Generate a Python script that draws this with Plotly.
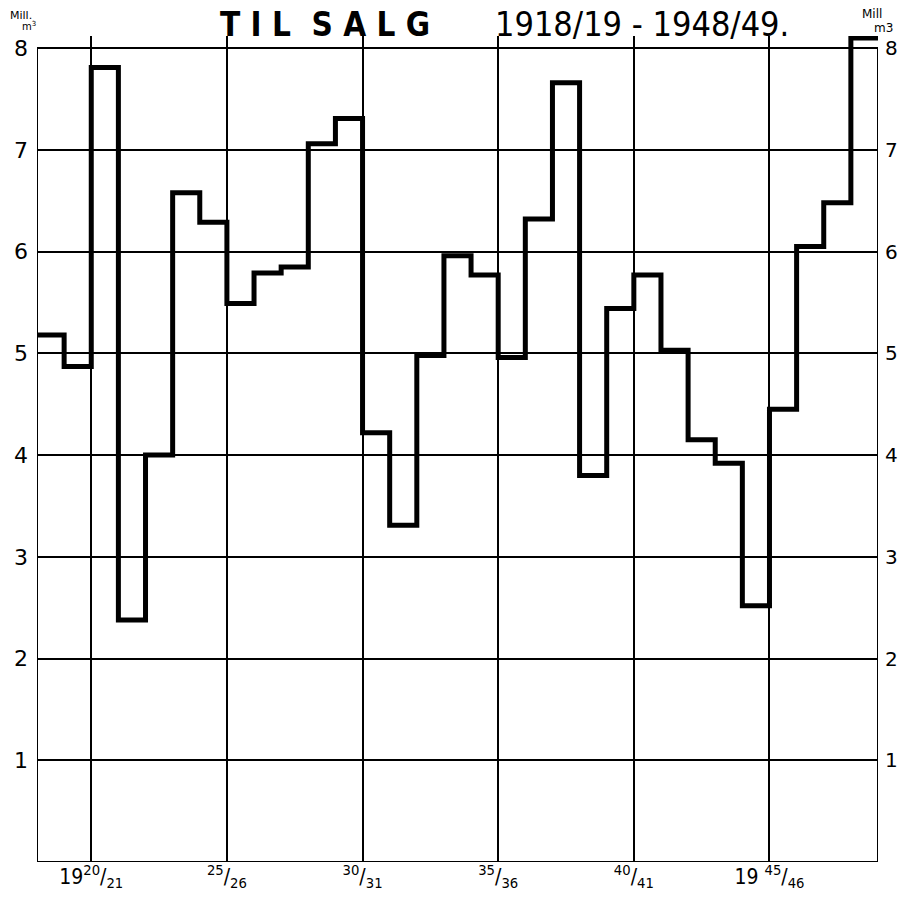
import plotly.graph_objects as go

years = ["1918/19","1919/20","1920/21","1921/22","1922/23","1923/24","1924/25","1925/26",
         "1926/27","1927/28","1928/29","1929/30","1930/31","1931/32","1932/33","1933/34",
         "1934/35","1935/36","1936/37","1937/38","1938/39","1939/40","1940/41","1941/42",
         "1942/43","1943/44","1944/45","1945/46","1946/47","1947/48","1948/49"]
values = [5.18, 4.87, 7.81, 2.38, 4.00, 6.58, 6.29, 5.49,
          5.79, 5.85, 7.06, 7.31, 4.22, 3.31, 4.98, 5.96,
          5.77, 4.96, 6.32, 7.66, 3.80, 5.44, 5.77, 5.03,
          4.15, 3.92, 2.52, 4.45, 6.05, 6.48, 8.10]
tick_pos = [2, 7, 12, 17, 22, 27]
tick_labels = ["19<sup>20</sup>/<sub>21</sub>", "<sup>25</sup>/<sub>26</sub>",
               "<sup>30</sup>/<sub>31</sub>", "<sup>35</sup>/<sub>36</sub>",
               "<sup>40</sup>/<sub>41</sub>", "19 <sup>45</sup>/<sub>46</sub>"]
y_ticks = [1, 2, 3, 4, 5, 6, 7, 8]

n = len(values)
xs = list(range(n + 1))
ys = values + [values[-1]]

fig = go.Figure()
fig.add_trace(go.Scatter(x=xs, y=ys, mode="lines", line_shape="hv",
                         line=dict(color="black", width=5), hoverinfo="skip",
                         showlegend=False))
fig.add_trace(go.Scatter(x=[0], y=[0], yaxis="y2", mode="markers",
                         marker=dict(opacity=0), showlegend=False, hoverinfo="skip"))

font = "DejaVu Sans"
cond = "DejaVu Sans Condensed, Liberation Sans Narrow, DejaVu Sans"
fig.update_layout(
    width=894, height=891,
    margin=dict(l=29, r=24, t=28, b=37, autoexpand=False),
    paper_bgcolor="white", plot_bgcolor="white",
    font=dict(family=font, color="black"),
    xaxis=dict(range=[0, n], tickvals=tick_pos, ticktext=tick_labels,
               showgrid=True, gridcolor="black", gridwidth=1.5,
               zeroline=False, showline=False, ticks="",
               tickfont=dict(size=21, family=cond, color="black")),
    yaxis=dict(range=[0, 8.12], tickvals=y_ticks, ticktext=[str(v) for v in y_ticks],
               showgrid=True, gridcolor="black", gridwidth=1.5,
               zeroline=False, showline=False, ticks="", ticklabelstandoff=8,
               tickfont=dict(size=22, family=font, color="black")),
    yaxis2=dict(range=[0, 8.12], tickvals=y_ticks, ticktext=[str(v) for v in y_ticks],
                overlaying="y", side="right", showgrid=False, zeroline=False,
                showline=False, ticks="", ticklabelstandoff=6,
                tickfont=dict(size=20, family=font, color="black")),
)

# frame
for sx0, sy0, sx1, sy1 in [(0, 0, 0, 8), (n, 0, n, 8), (0, 0, n, 0)]:
    fig.add_shape(type="line", xref="x", yref="y", x0=sx0, y0=sy0, x1=sx1, y1=sy1,
                  line=dict(color="black", width=2))

fig.add_annotation(text="<b>T I L  S A L G</b>", xref="paper", yref="paper",
                   x=0.215, y=1.0, xanchor="left", yanchor="middle", yshift=12,
                   showarrow=False, font=dict(size=33, family=cond, color="black"))
fig.add_annotation(text="1918/19 - 1948/49.", xref="paper", yref="paper",
                   x=0.542, y=1.0, xanchor="left", yanchor="middle", yshift=12,
                   showarrow=False, font=dict(size=34, family=cond, color="black"))
# unit labels
fig.add_annotation(text="Mill.", xref="paper", yref="paper", x=0, y=1.0,
                   xanchor="left", yanchor="middle", yshift=21, xshift=-29,
                   showarrow=False, font=dict(size=11, family=font, color="black"))
fig.add_annotation(text="m<sup>3</sup>", xref="paper", yref="paper", x=0, y=1.0,
                   xanchor="left", yanchor="middle", yshift=10, xshift=-17,
                   showarrow=False, font=dict(size=10, family=font, color="black"))
fig.add_annotation(text="Mill", xref="paper", yref="paper", x=1.0, y=1.0,
                   xanchor="right", yanchor="middle", yshift=22, xshift=6,
                   showarrow=False, font=dict(size=12, family=font, color="black"))
fig.add_annotation(text="m3", xref="paper", yref="paper", x=1.0, y=1.0,
                   xanchor="right", yanchor="middle", yshift=8, xshift=17,
                   showarrow=False, font=dict(size=12, family=font, color="black"))

fig.write_html("out.html")
